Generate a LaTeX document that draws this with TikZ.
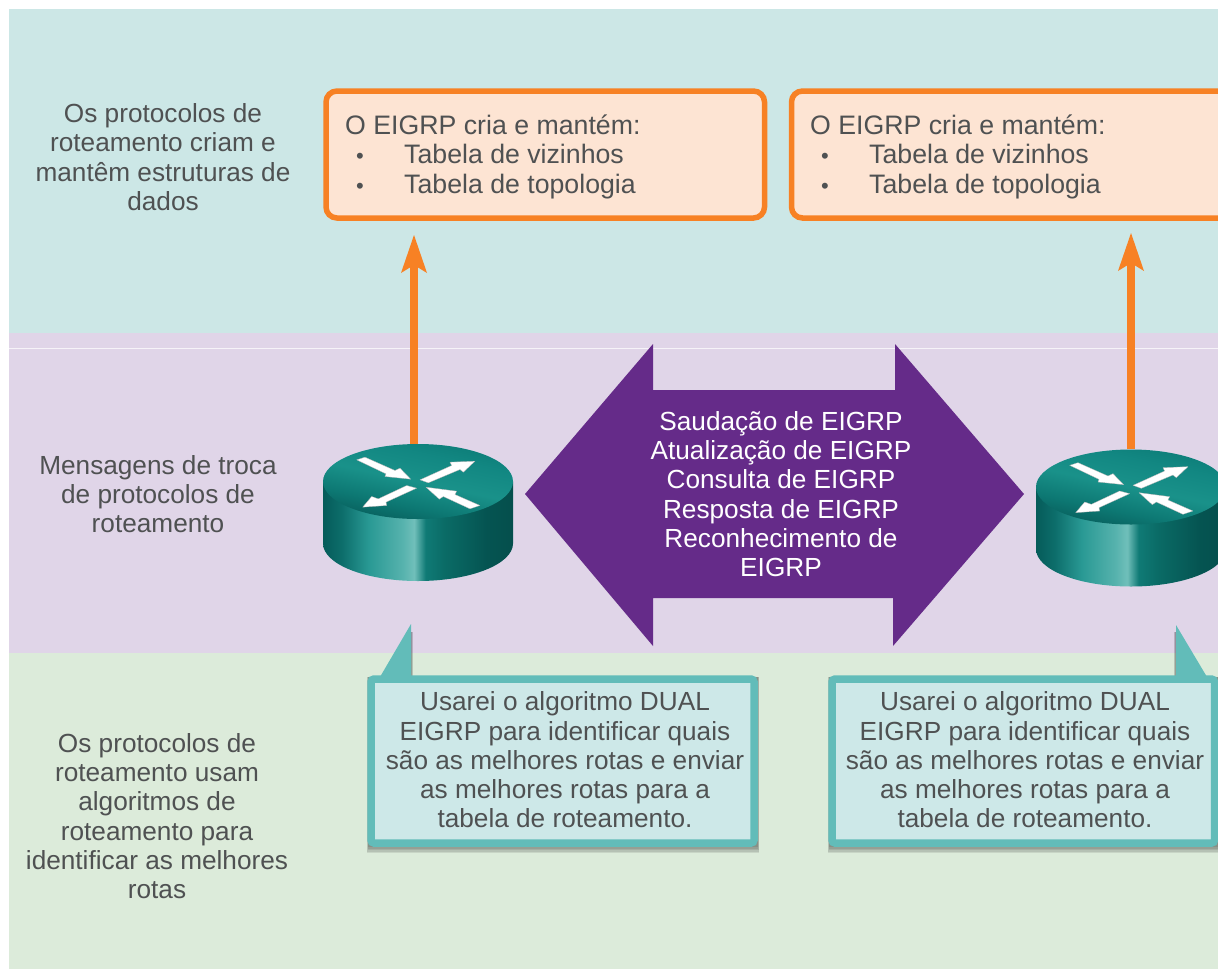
\documentclass[tikz,border=0pt]{standalone}
\usepackage{fontspec}
\setmainfont{Liberation Sans}
\usetikzlibrary{arrows.meta}
\definecolor{bandteal}{HTML}{CCE7E6}
\definecolor{bandpurple}{HTML}{E0D5E8}
\definecolor{bandgreen}{HTML}{DCEBDA}
\definecolor{txt}{HTML}{4F5152}
\definecolor{orng}{HTML}{F78124}
\definecolor{peach}{HTML}{FDE4D3}
\definecolor{purp}{HTML}{652B89}
\definecolor{tealb}{HTML}{62BCB9}
\definecolor{tealf}{HTML}{CDE8E8}
\pgfdeclarehorizontalshading{routerside}{100bp}{
 rgb(0bp)=(0.02,0.36,0.35);
 rgb(25bp)=(0.02,0.36,0.35);
 rgb(30bp)=(0.05,0.43,0.42);
 rgb(37bp)=(0.16,0.60,0.58);
 rgb(46bp)=(0.34,0.70,0.68);
 rgb(49bp)=(0.44,0.75,0.73);
 rgb(52bp)=(0.06,0.48,0.46);
 rgb(57bp)=(0.04,0.42,0.40);
 rgb(68bp)=(0.02,0.33,0.32);
 rgb(75bp)=(0.02,0.31,0.30);
 rgb(100bp)=(0.02,0.31,0.30)}
\pgfdeclareverticalshading{routertop}{100bp}{
 rgb(0bp)=(0.03,0.37,0.36);
 rgb(25bp)=(0.03,0.37,0.36);
 rgb(36bp)=(0.05,0.47,0.45);
 rgb(50bp)=(0.10,0.57,0.54);
 rgb(65bp)=(0.07,0.53,0.51);
 rgb(75bp)=(0.05,0.49,0.47);
 rgb(100bp)=(0.05,0.49,0.47)}
\tikzset{
 x=1pt,y=-1pt,
 label/.style={align=center,text=txt,font=\fontsize{26.2}{29.3}\selectfont,inner sep=0pt},
 boxtext/.style={anchor=base west,text=txt,font=\fontsize{26.7}{29.3}\selectfont,inner sep=0pt},
 bullettext/.style={anchor=base west,text=txt,font=\fontsize{22}{29.3}\selectfont,inner sep=0pt},
 orbox/.style={draw=orng,line width=5.5pt,fill=peach,rounded corners=11pt,minimum height=127pt,inner sep=0pt,outer sep=0pt,anchor=north west},
 callout/.style={draw=tealb,line width=7.5pt,fill=tealf,rounded corners=3pt,anchor=north west,inner sep=0pt,outer sep=0pt,minimum height=164pt},
 tailshape/.style={fill=tealb,draw=none},
 softshadow/.style={fill=black,opacity=.09,draw=none},
 pipe/.style={draw=orng,line width=8pt,-{Stealth[length=38pt,width=26pt,inset=8pt,line width=0pt]}},
 routerpad/.style={inner sep=0pt,outer sep=0pt,minimum width=190pt,minimum height=136pt},
 routerarrow/.style={fill=white,draw=black!30,line width=.3pt,line join=round},
}
\newcommand{\router}[3]{%
 \begin{scope}[shift={(#2,#3)}]
  \path[shading=routerside] (-95,0) -- (-95,62) arc[start angle=180,end angle=360,x radius=95pt,y radius=37.5pt] -- (95,0) -- cycle;
  \path[shading=routertop,shading angle=-12] (0,0) ellipse[x radius=95pt,y radius=37.5pt];
  \begin{scope}[shift={(-118,-61)},x=0.3333pt,y=-0.3333pt]
   \path[routerarrow] (170,118)--(195,110)--(285,150)--(300,143)--(332,176)--(255,168)--(258,160)--cycle;
   \path[routerarrow] (360,178)--(455,135)--(450,125)--(525,122)--(490,155)--(480,147)--(385,187)--cycle;
   \path[routerarrow] (320,195)--(350,203)--(258,245)--(260,255)--(188,260)--(215,228)--(235,235)--cycle;
   \path[routerarrow] (378,200)--(470,212)--(465,222)--(540,255)--(510,265)--(430,228)--(418,236)--cycle;
  \end{scope}
 \end{scope}
 \node[routerpad] (#1) at (#2,#3+30) {};%
}
\begin{document}
\begin{tikzpicture}
\useasboundingbox (0,0) rectangle (1218,970);
\begin{scope}
\clip (0,0) rectangle (1218,970);
\fill[white] (0,0) rectangle (1218,970);
\fill[bandteal] (9,9) rectangle (1218,333);
\fill[bandpurple] (9,333) rectangle (1218,653);
\fill[bandgreen] (9,653) rectangle (1218,969);
\fill[white!70!bandpurple] (9,347.5) rectangle (1218,348.5);

% left labels
\node[label] (l1) at (163,157) {Os protocolos de\\roteamento criam e\\mantêm estruturas de\\dados};
\node[label] (l2) at (158,494) {Mensagens de troca\\de protocolos de\\roteamento};
\node[label] (l3) at (157,816) {Os protocolos de\\roteamento usam\\algoritmos de\\roteamento para\\identificar as melhores\\rotas};

% orange boxes
\node[orbox,minimum width=438.5pt] (b1) at (326,91) {};
\node[orbox,minimum width=440pt] (b2) at (791.5,91) {};
\foreach \bx/\nm in {345/a,810/b}{
 \node[boxtext] (\nm0) at (\bx,134) {O EIGRP cria e mantém:};
 \node[bullettext] (\nm1) at (\bx+11,163) {•};
 \node[boxtext] (\nm2) at (\bx+59,163) {Tabela de vizinhos};
 \node[bullettext] (\nm3) at (\bx+11,193) {•};
 \node[boxtext] (\nm4) at (\bx+59,193) {Tabela de topologia};
}

% routers
\router{r1}{418}{481.5}
\router{r2}{1131}{487}

% orange arrows
\coordinate (t1) at (414,235);
\coordinate (t2) at (1131,233);
\draw[pipe] (r1.north -| t1) -- (t1);
\draw[pipe] (r2.north -| t2) -- (t2);

% big purple arrow
\fill[purp] (525,494)--(653,344)--(653,390)--(895,390)--(895,344)--(1024,494)--(893,646)--(893,598)--(653,598)--(653,646)--cycle;
\node[label,text=white] (msg) at (781,494) {Saudação de EIGRP\\Atualização de EIGRP\\Consulta de EIGRP\\Resposta de EIGRP\\Reconhecimento de\\EIGRP};

% callout shadows
\foreach \d in {0,1,2,3,4}{
 \fill[softshadow] (368-.25*\d,677) rectangle (758+.25*\d,847+1.6*\d);
 \fill[softshadow] (829-.25*\d,677) rectangle (1220,847+1.6*\d);
 \fill[softshadow] (411,632) -- (411+.6*\d,632) -- (411+.6*\d,678) -- (411,678) -- cycle;
 \fill[softshadow] (1176,632) -- (1176-.6*\d,632) -- (1176-.6*\d,678) -- (1176,678) -- cycle;
}
% callouts
\node[callout,minimum width=383pt] (k1) at (371,679) {};
\node[callout,minimum width=382.5pt] (k2) at (832,679) {};
\fill[tailshape] (411,624)--(411,677)--(380,677)--cycle;
\fill[tailshape] (1176,625)--(1176,677)--(1207,677)--cycle;
\node[label] (kt1) at (565,760) {Usarei o algoritmo DUAL\\EIGRP para identificar quais\\são as melhores rotas e enviar\\as melhores rotas para a\\tabela de roteamento.};
\node[label] (kt2) at (1025,760) {Usarei o algoritmo DUAL\\EIGRP para identificar quais\\são as melhores rotas e enviar\\as melhores rotas para a\\tabela de roteamento.};
\end{scope}
\end{tikzpicture}
\end{document}
